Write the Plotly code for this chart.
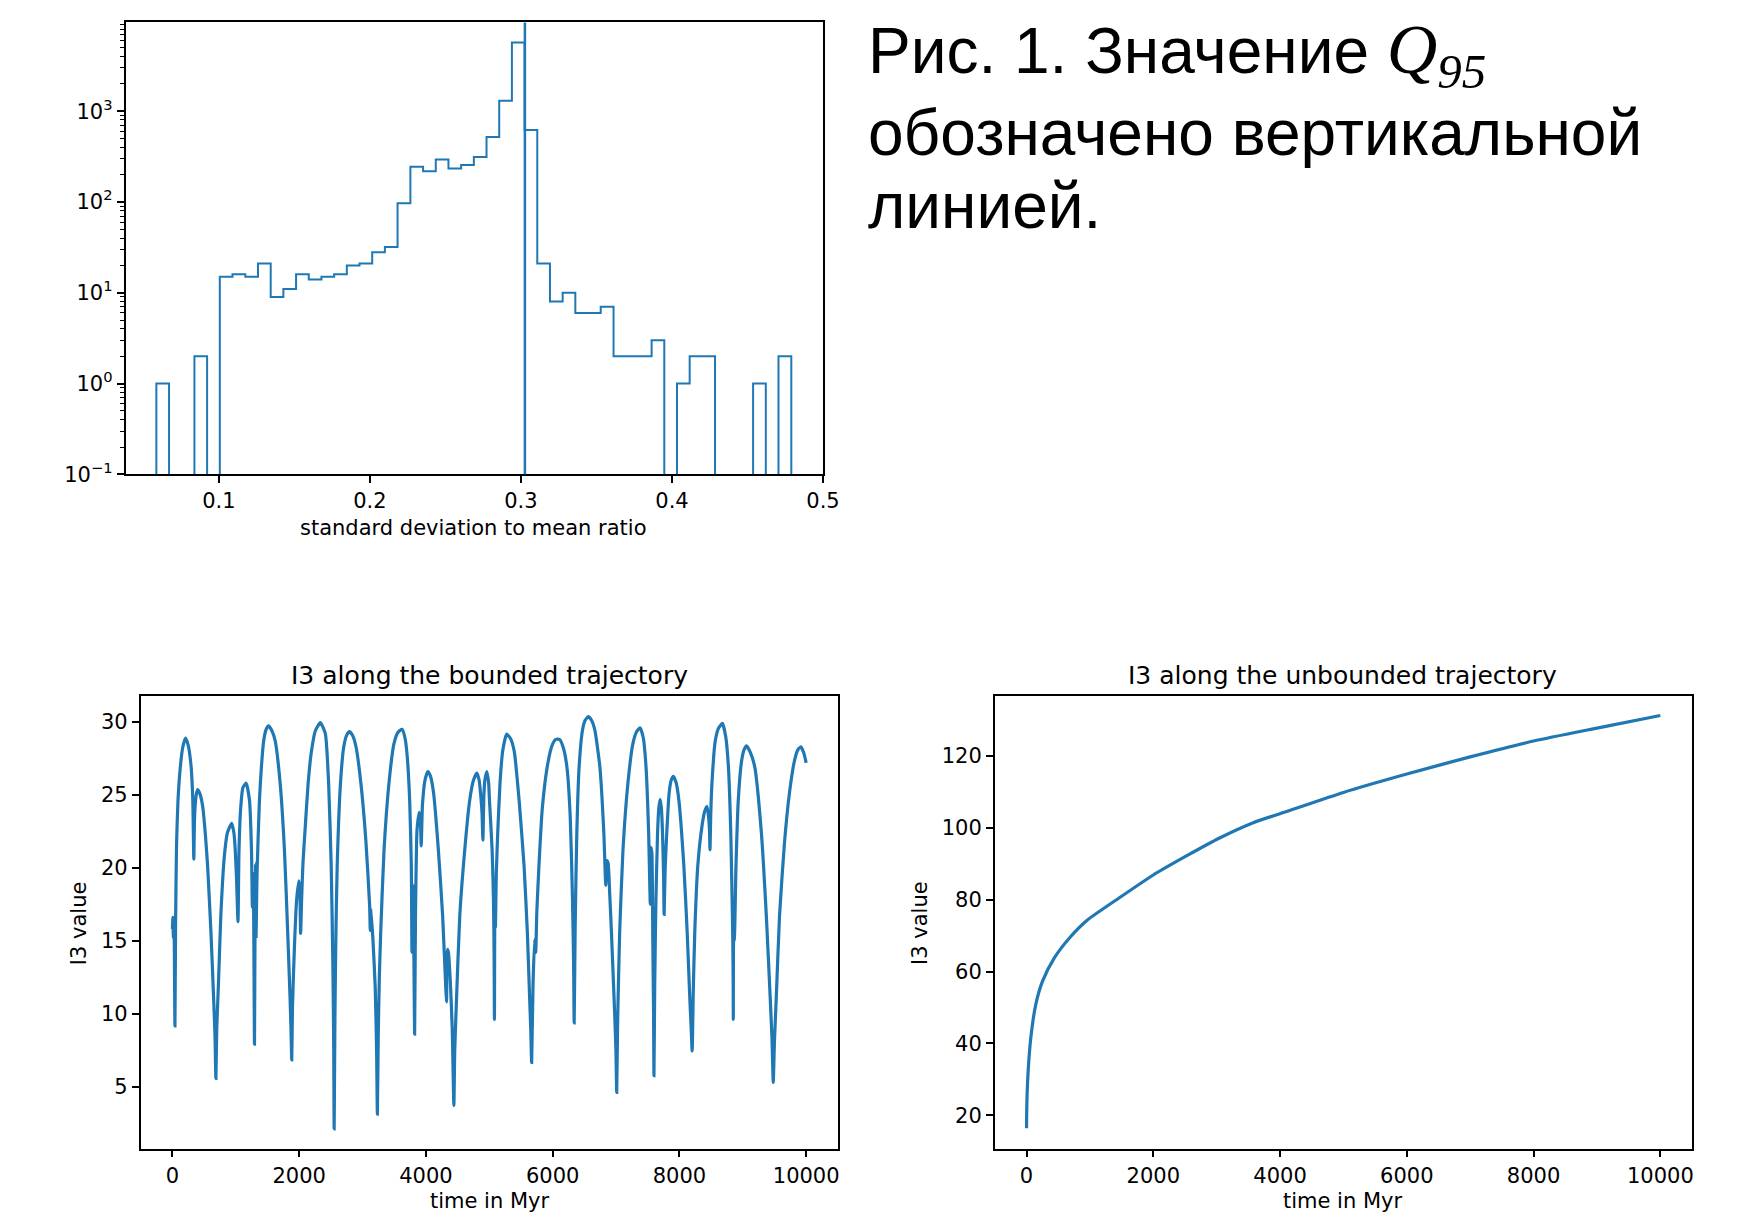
import numpy as np
import plotly.graph_objects as go

# ---------------- data ----------------
# histogram (50 equal bins), counts per bin
bin_edges = [0.0586, 0.0670, 0.0754, 0.0838, 0.0922, 0.1006, 0.1090, 0.1175, 0.1259, 0.1343,
             0.1427, 0.1511, 0.1595, 0.1679, 0.1763, 0.1847, 0.1931, 0.2015, 0.2099, 0.2183,
             0.2268, 0.2352, 0.2436, 0.2520, 0.2604, 0.2688, 0.2772, 0.2856, 0.2940, 0.3024,
             0.3108, 0.3192, 0.3276, 0.3360, 0.3444, 0.3528, 0.3613, 0.3697, 0.3781, 0.3865,
             0.3949, 0.4033, 0.4117, 0.4201, 0.4285, 0.4369, 0.4453, 0.4537, 0.4621, 0.4705,
             0.4790]
hist_counts = [1, 0, 0, 2, 0, 15, 16, 15, 21, 9,
               11, 16, 14, 15, 16, 20, 21, 28, 32, 97,
               245, 218, 293, 234, 256, 312, 520, 1300, 5700, 622,
               21, 8, 10, 6, 6, 7, 2, 2, 2, 3,
               0, 1, 2, 2, 0, 0, 0, 1, 0, 2]
q95 = 0.3026

hist_xticks = [0.1, 0.2, 0.3, 0.4, 0.5]
hist_xticktext = ["0.1", "0.2", "0.3", "0.4", "0.5"]
hist_yticks = [0.1, 1, 10, 100, 1000]
hist_yticktext = ["10<sup>\u22121</sup>", "10<sup>0</sup>", "10<sup>1</sup>", "10<sup>2</sup>", "10<sup>3</sup>"]

# I3 along the bounded trajectory
bounded_t = [0, 8, 16, 26, 40, 50, 65, 88, 125, 165, 208, 250, 296, 322, 338,
             348, 360, 380, 400, 440, 478, 520, 556, 608, 650, 672, 686,
             700, 728, 764, 816, 868, 936, 970, 988, 1010, 1035,
             1050, 1076, 1113, 1165, 1217, 1248, 1262, 1272, 1282, 1295, 1303, 1312, 1320,
             1335, 1373, 1404, 1440, 1480, 1518, 1570, 1622, 1700, 1768, 1820, 1857, 1872, 1883,
             1895, 1924, 1960, 1997, 2012, 2023,
             2040, 2060, 2090, 2142, 2194, 2256, 2335, 2413, 2465, 2506, 2532, 2545, 2552,
             2565, 2580, 2600, 2652, 2704, 2750, 2792, 2840, 2897, 2974, 3052, 3112, 3122, 3132,
             3165, 3200, 3222, 3234,
             3248, 3265, 3287, 3339, 3417, 3495, 3560, 3624, 3670, 3702, 3744, 3770, 3780, 3792,
             3805, 3822, 3835, 3860, 3895, 3915, 3926, 3945, 3985, 4030,
             4070, 4119, 4197, 4264, 4316, 4326, 4338, 4355, 4385, 4415, 4441,
             4455, 4482, 4534, 4612, 4690, 4750, 4805, 4840, 4862, 4885, 4899,
             4915, 4930, 4961, 4990, 5003, 5045, 5066, 5076, 5081, 5088, 5097,
             5110, 5133, 5169, 5211, 5273, 5330, 5393, 5471, 5549, 5601, 5637, 5655, 5668,
             5690, 5715, 5732,
             5750, 5783, 5835, 5913, 5991, 6050, 6110, 6170, 6225, 6277, 6313, 6330, 6339,
             6355, 6381, 6417, 6469, 6510, 6563, 6615, 6667, 6745, 6807, 6838, 6855, 6875,
             6900, 6927, 6979, 6998, 7010,
             7025, 7057, 7109, 7187, 7265, 7320, 7379, 7430, 7473, 7514, 7540, 7550, 7565,
             7580, 7592, 7598,
             7610, 7629, 7655, 7675, 7696, 7715, 7733, 7750, 7758,
             7775, 7800, 7837, 7870, 7904, 7950, 7992, 8070, 8122, 8164, 8185, 8201,
             8218, 8242, 8289, 8357, 8400, 8435, 8460, 8475, 8482,
             8495, 8513, 8565, 8620, 8679, 8730, 8773, 8810, 8836, 8842, 8848, 8850,
             8856, 8865,
             8892, 8928, 8980, 9020, 9059, 9120, 9189, 9293, 9371, 9433, 9460, 9480,
             9500, 9527, 9579, 9657, 9735, 9813, 9870, 9917, 9960, 10000]
bounded_i3 = [15.8, 16.6, 15.2, 16.2, 9.15, 16.0, 21.5, 24.6, 26.9, 28.3, 28.9, 28.4, 26.9, 24.6, 20.6,
              23.2, 24.3, 25.1, 25.36, 25.0, 24.2, 22.3, 20.1, 15.6, 11.1, 8.5, 5.56,
              9.0, 12.2, 16.7, 20.6, 22.4, 23.05, 22.4, 21.5, 19.5, 16.3,
              21.0, 24.0, 25.5, 25.8, 24.6, 21.2, 17.3, 19.6, 17.0, 7.9, 15.2, 20.3, 15.3,
              19.5, 24.6, 26.9, 28.7, 29.5, 29.73, 29.4, 28.7, 25.8, 21.2, 15.5, 11.0, 8.8, 6.83,
              10.5, 14.4, 17.8, 19.1, 18.3, 15.5,
              18.0, 20.3, 22.4, 25.8, 28.0, 29.4, 29.95, 29.2, 25.8, 20.1, 13.3, 8.0, 2.1,
              10.0, 15.5, 20.1, 25.8, 28.3, 29.1, 29.34, 29.1, 28.3, 25.8, 21.9, 17.4, 15.7, 17.2,
              15.0, 11.8, 7.5, 3.1,
              8.5, 12.5, 15.6, 21.2, 25.8, 28.5, 29.3, 29.5, 28.9, 27.8, 24.6, 20.1, 14.2, 18.9,
              16.5, 8.6, 16.5, 22.6, 23.8, 23.0, 21.5, 24.3, 26.0, 26.6,
              26.3, 25.2, 21.2, 16.7, 11.5, 10.8, 14.4, 14.2, 12.2, 9.0, 3.7,
              7.5, 10.9, 16.7, 21.2, 24.6, 26.0, 26.5, 26.0, 25.1, 23.8, 21.9,
              25.0, 26.0, 26.6, 25.8, 24.6, 21.2, 17.8, 14.0, 9.6, 17.0, 16.0,
              19.5, 22.4, 25.8, 28.0, 29.16, 28.9, 28.0, 24.6, 20.1, 15.5, 11.0, 8.8, 6.65,
              12.0, 15.1, 14.2,
              17.0, 20.1, 24.0, 26.9, 28.4, 28.8, 28.8, 28.2, 26.9, 23.5, 17.8, 13.5, 9.36,
              16.0, 22.4, 26.9, 29.4, 30.1, 30.36, 30.1, 29.4, 26.9, 22.4, 18.8, 20.5, 20.3,
              18.2, 15.6, 9.9, 7.5, 4.6,
              9.5, 15.6, 21.2, 25.8, 28.5, 29.3, 29.6, 28.9, 26.9, 22.4, 17.5, 21.4, 21.0,
              15.0, 10.0, 5.74,
              12.0, 17.8, 22.4, 24.1, 24.7, 24.1, 22.4, 19.5, 16.8,
              20.0, 22.4, 25.1, 26.0, 26.27, 25.8, 24.6, 20.1, 15.6, 11.0, 9.0, 7.44,
              11.5, 15.6, 20.1, 22.9, 23.9, 24.2, 23.5, 22.5, 21.24,
              23.8, 25.8, 28.7, 29.6, 29.9, 29.0, 26.9, 22.4, 16.7, 15.0, 12.0, 9.6,
              15.2, 15.0,
              20.1, 24.6, 27.3, 28.1, 28.37, 27.9, 26.9, 22.4, 16.7, 11.0, 8.3, 5.29,
              8.2, 11.0, 16.7, 21.7, 25.1, 27.3, 28.1, 28.3, 27.9, 27.2]

# I3 along the unbounded trajectory
unbounded_t = [0, 5, 26, 68, 146, 251, 434, 694, 956, 1477, 2000, 2522, 3045, 3567,
               4089, 5000, 6000, 7000, 8000, 9000, 10000]
unbounded_i3 = [16.4, 23.3, 32.5, 41.7, 50.9, 57.3, 63.7, 69.7, 74.3, 80.7, 86.9, 92.2, 97.2, 101.4,
                104.5, 109.9, 115.0, 119.8, 124.2, 127.8, 131.3]

time_ticks = [0, 2000, 4000, 6000, 8000, 10000]
time_ticktext = ["0", "2000", "4000", "6000", "8000", "10000"]
bounded_yticks = [5, 10, 15, 20, 25, 30]
unbounded_yticks = [20, 40, 60, 80, 100, 120]

# ---------------- figure ----------------
W, H = 1756, 1218
BLUE = "#1f77b4"
TICKFONT = dict(family="DejaVu Sans", size=21, color="black")

def px_x(p):
    return p / W

def px_y(p):
    return 1 - p / H

fig = go.Figure()

floor = 1e-3
disp_counts = [c if c > 0 else floor for c in hist_counts]
step_x = [bin_edges[0]] + list(bin_edges)
step_y = [floor] + disp_counts + [floor]
fig.add_trace(go.Scatter(x=step_x, y=step_y, mode="lines", line=dict(color=BLUE, width=2, shape="hv"),
                         xaxis="x", yaxis="y", hoverinfo="skip"))

fig.add_trace(go.Scatter(x=bounded_t, y=bounded_i3, mode="lines",
                         line=dict(color=BLUE, width=3.2, shape="spline", smoothing=0.5),
                         xaxis="x2", yaxis="y2"))
fig.add_trace(go.Scatter(x=unbounded_t, y=unbounded_i3, mode="lines",
                         line=dict(color=BLUE, width=3.2, shape="spline", smoothing=0.6),
                         xaxis="x3", yaxis="y3"))

common = dict(showline=True, linecolor="black", linewidth=1.6, mirror=True, ticks="outside",
              ticklen=7, tickwidth=1.6, tickcolor="black", showgrid=False, zeroline=False,
              tickfont=TICKFONT)

minor_vals = []
for k in range(-1, 4):
    for m in range(2, 10):
        minor_vals.append(m * 10 ** k)

fig.update_layout(
    width=W, height=H, margin=dict(l=0, r=0, t=0, b=0),
    paper_bgcolor="white", plot_bgcolor="white", showlegend=False,
    xaxis=dict(domain=[px_x(118.7), px_x(823)], range=[0.0382, 0.5], tickmode="array",
               tickvals=hist_xticks, ticktext=hist_xticktext, anchor="y", **common),
    yaxis=dict(domain=[px_y(471), px_y(14.6)], type="log", range=[-1, 3.977], tickmode="array",
               tickvals=hist_yticks, ticktext=hist_yticktext, anchor="x",
               minor=dict(ticks="outside", ticklen=4, tickwidth=1.2, tickcolor="black",
                          tickvals=minor_vals, showgrid=False),
               **common),
    xaxis2=dict(domain=[px_x(134), px_x(838)], range=[-500, 10500], tickmode="array",
                tickvals=time_ticks, ticktext=time_ticktext, anchor="y2", **common),
    yaxis2=dict(domain=[px_y(1152), px_y(695)], range=[0.74, 31.77], tickmode="array",
                tickvals=bounded_yticks, anchor="x2", **common),
    xaxis3=dict(domain=[px_x(996.5), px_x(1700.5)], range=[-500, 10500], tickmode="array",
                tickvals=time_ticks, ticktext=time_ticktext, anchor="y3", **common),
    yaxis3=dict(domain=[px_y(1152), px_y(695)], range=[10.7, 136.7], tickmode="array",
                tickvals=unbounded_yticks, anchor="x3", **common),
)

fig.add_shape(type="line", xref="x", yref="y domain", x0=q95, x1=q95, y0=0, y1=1,
              line=dict(color=BLUE, width=2.5))

ann = []
LBL = dict(family="DejaVu Sans", size=21, color="black")
ann.append(dict(text="standard deviation to mean ratio", x=px_x(470), y=px_y(525), font=LBL))
ann.append(dict(text="I3 along the bounded trajectory", x=px_x(486), y=px_y(674),
                font=dict(family="DejaVu Sans", size=25, color="black")))
ann.append(dict(text="I3 along the unbounded trajectory", x=px_x(1348), y=px_y(674),
                font=dict(family="DejaVu Sans", size=25, color="black")))
ann.append(dict(text="time in Myr", x=px_x(486), y=px_y(1205), font=LBL))
ann.append(dict(text="time in Myr", x=px_x(1348), y=px_y(1205), font=LBL))
ann.append(dict(text="I3 value", x=px_x(72), y=px_y(924), font=LBL, textangle=-90))
ann.append(dict(text="I3 value", x=px_x(921), y=px_y(924), font=LBL, textangle=-90))

BIG = dict(family="Liberation Sans", size=64, color="black")
caption_lines = [
    "Рис. 1. Значение <span style='font-family:Liberation Serif;font-size:70px'><i>Q</i><sub><i>95</i></sub></span>",
    "обозначено вертикальной",
    "линией.",
]
caption_y = [47, 126, 200]
for line, yy in zip(caption_lines, caption_y):
    ann.append(dict(text=line, x=px_x(866), y=px_y(yy), font=BIG, xanchor="left"))

for a in ann:
    a.setdefault("xref", "paper")
    a.setdefault("yref", "paper")
    a.setdefault("showarrow", False)
    a.setdefault("xanchor", "center")
    a.setdefault("yanchor", "middle")
    fig.add_annotation(**a)

fig.write_html("out.html")
